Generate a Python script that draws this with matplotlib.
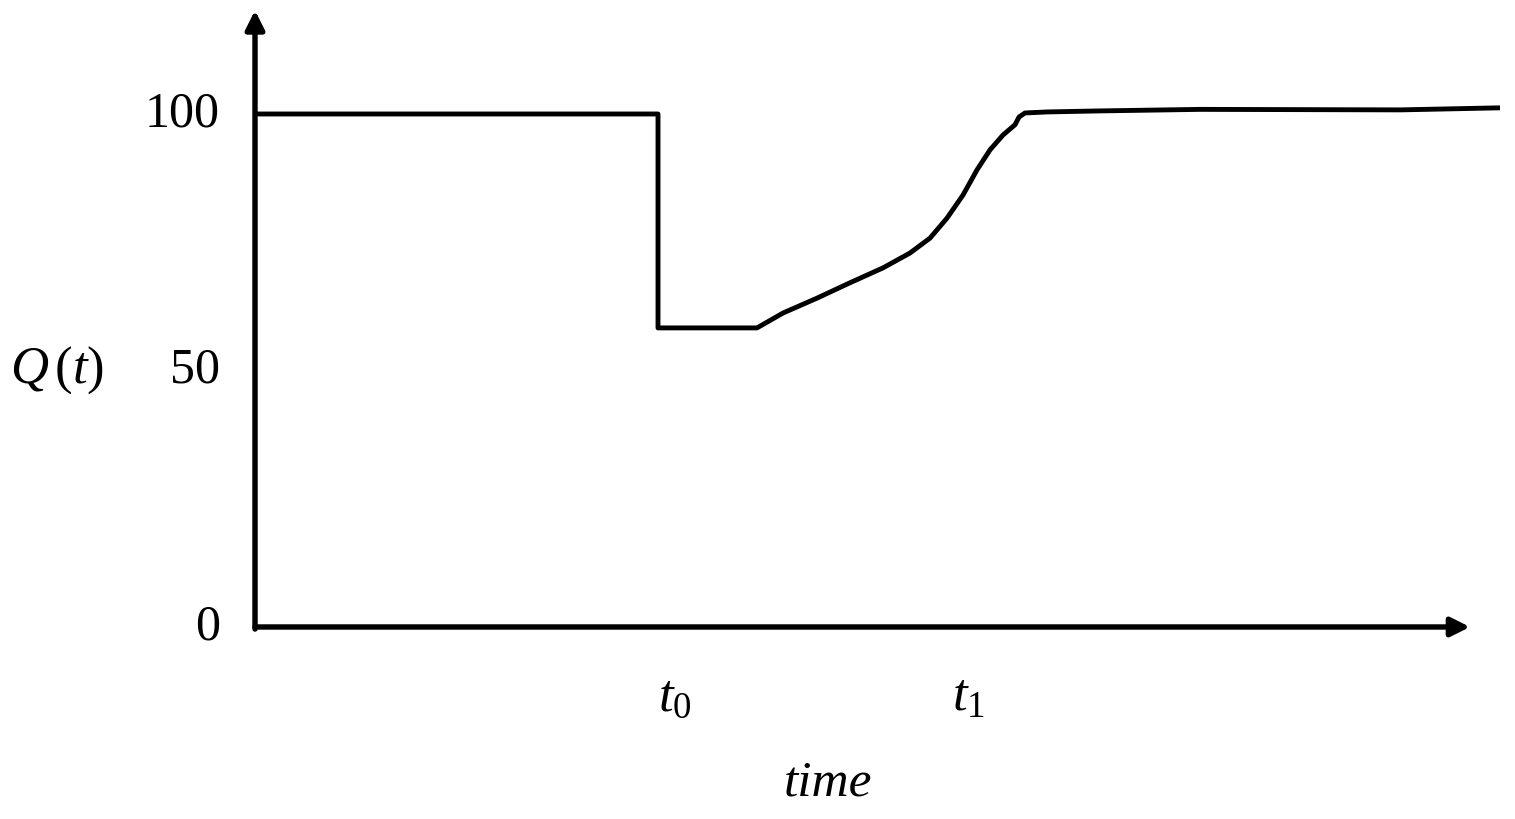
import matplotlib.pyplot as plt

plt.rcParams['mathtext.fontset'] = 'custom'
plt.rcParams['mathtext.rm'] = 'Liberation Serif'
plt.rcParams['mathtext.it'] = 'Liberation Serif:italic'

# curve (time in arbitrary units, Q in %)
time = [0, 4.03, 4.03, 5.02, 5.28, 5.62, 5.95, 6.28, 6.55, 6.75, 6.92,
        7.08, 7.22, 7.35, 7.48, 7.60, 7.64, 7.70, 7.92, 8.45, 9.45,
        11.45, 12.45]
q = [100, 100, 58.3, 58.3, 61.2, 64.1, 67.1, 70.0, 72.9, 75.8, 79.7,
     84.2, 89.1, 93.0, 95.9, 97.9, 99.4, 100.2, 100.4, 100.6, 100.9,
     100.8, 101.2]

yticks = [0, 50, 100]
ytick_labels = ['0', '50', '100']
xticks = [4.2, 7.13]
xtick_labels = [r'$t_0$', r'$t_1$']

fig = plt.figure(figsize=(15.15, 8.19), dpi=100)
ax = fig.add_axes([0, 0, 1, 1])
ax.set_xlim(-2.55, 12.60)
ax.set_ylim(-37.43, 122.22)
ax.axis('off')

# axes with arrow heads
arrow = dict(arrowstyle='-|>', lw=3.9, color='black', mutation_scale=28,
             shrinkA=0, shrinkB=0)
ax.annotate('', xy=(0, 120.2), xytext=(0, -0.4), arrowprops=arrow)
ax.annotate('', xy=(12.15, 0), xytext=(0, 0), arrowprops=arrow)

ax.plot(time, q, color='black', lw=3.5, solid_joinstyle='round',
        solid_capstyle='butt')

for v, lab in zip(yticks, ytick_labels):
    ax.text(-0.35, v, lab, ha='right', va='center', fontsize=36,
            family='Liberation Serif')
for v, lab in zip(xticks, xtick_labels):
    ax.text(v, -13.5, lab, ha='center', va='center', fontsize=38)

ax.text(-1.98, 50, r'$Q\,(t)$', ha='center', va='center', fontsize=38)
ax.text(5.73, -30.5, 'time', ha='center', va='center', fontsize=37,
        family='Liberation Serif', style='italic')

fig.savefig('out.png', dpi=100)
